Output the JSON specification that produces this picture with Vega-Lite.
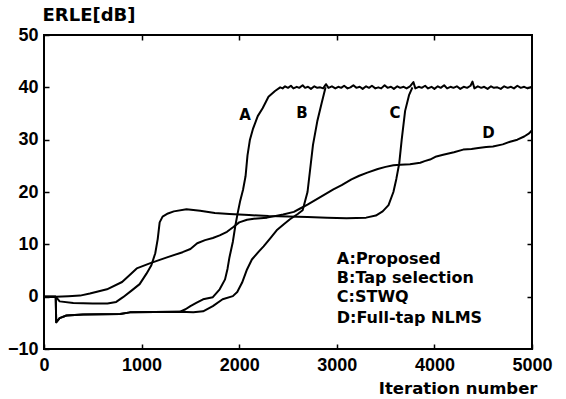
{
  "$schema": "https://vega.github.io/schema/vega-lite/v6.json",
  "width": 488,
  "height": 314,
  "autosize": "none",
  "padding": {"left": 44, "top": 35, "right": 34, "bottom": 50},
  "background": "white",
  "config": {
    "view": {"stroke": "black", "strokeWidth": 2},
    "axis": {"grid": false, "domain": false, "tickColor": "black", "tickWidth": 1.5, "labelColor": "black", "titleColor": "black"}
  },
  "datasets": {
    "curves": [
      {"curve":"A","iteration":0,"erle":0},{"curve":"A","iteration":120,"erle":0},{"curve":"A","iteration":125,"erle":-4.9},{"curve":"A","iteration":160,"erle":-4.1},{"curve":"A","iteration":230,"erle":-3.6},{"curve":"A","iteration":400,"erle":-3.4},{"curve":"A","iteration":780,"erle":-3.3},{"curve":"A","iteration":880,"erle":-3.0},{"curve":"A","iteration":1390,"erle":-2.9},{"curve":"A","iteration":1450,"erle":-2.4},{"curve":"A","iteration":1500,"erle":-1.8},{"curve":"A","iteration":1560,"erle":-1.2},{"curve":"A","iteration":1630,"erle":-0.5},{"curve":"A","iteration":1730,"erle":-0.1},{"curve":"A","iteration":1800,"erle":1.4},{"curve":"A","iteration":1855,"erle":3.3},{"curve":"A","iteration":1880,"erle":5.3},{"curve":"A","iteration":1900,"erle":7.5},{"curve":"A","iteration":1935,"erle":10.5},{"curve":"A","iteration":1960,"erle":13.5},{"curve":"A","iteration":1985,"erle":16.0},{"curve":"A","iteration":2010,"erle":18.3},{"curve":"A","iteration":2040,"erle":20.5},{"curve":"A","iteration":2065,"erle":23},{"curve":"A","iteration":2085,"erle":27},{"curve":"A","iteration":2110,"erle":30},{"curve":"A","iteration":2140,"erle":32},{"curve":"A","iteration":2190,"erle":34.5},{"curve":"A","iteration":2240,"erle":36},{"curve":"A","iteration":2300,"erle":38.2},{"curve":"A","iteration":2367,"erle":39.3},
      {"curve":"A","iteration":2420,"erle":40.0},{"curve":"A","iteration":2445,"erle":39.8},{"curve":"A","iteration":2470,"erle":40.2},{"curve":"A","iteration":2500,"erle":39.9},{"curve":"A","iteration":2530,"erle":40.3},{"curve":"A","iteration":2555,"erle":39.8},{"curve":"A","iteration":2590,"erle":40.1},{"curve":"A","iteration":2615,"erle":39.9},{"curve":"A","iteration":2650,"erle":40.4},{"curve":"A","iteration":2675,"erle":39.9},{"curve":"A","iteration":2705,"erle":40.1},{"curve":"A","iteration":2735,"erle":39.7},{"curve":"A","iteration":2770,"erle":40.2},{"curve":"A","iteration":2800,"erle":39.9},{"curve":"A","iteration":2830,"erle":40.0},{"curve":"A","iteration":2860,"erle":39.8},{"curve":"A","iteration":2890,"erle":40.6},{"curve":"A","iteration":2915,"erle":39.9},{"curve":"A","iteration":2950,"erle":40.2},{"curve":"A","iteration":2985,"erle":39.8},{"curve":"A","iteration":3015,"erle":40.1},{"curve":"A","iteration":3045,"erle":39.9},{"curve":"A","iteration":3075,"erle":40.3},{"curve":"A","iteration":3110,"erle":39.8},{"curve":"A","iteration":3140,"erle":40.0},{"curve":"A","iteration":3170,"erle":40.4},{"curve":"A","iteration":3200,"erle":39.9},{"curve":"A","iteration":3235,"erle":40.1},{"curve":"A","iteration":3265,"erle":39.7},{"curve":"A","iteration":3300,"erle":40.2},{"curve":"A","iteration":3330,"erle":39.9},{"curve":"A","iteration":3360,"erle":40.3},{"curve":"A","iteration":3395,"erle":39.8},{"curve":"A","iteration":3425,"erle":40.0},{"curve":"A","iteration":3455,"erle":39.8},{"curve":"A","iteration":3490,"erle":40.4},{"curve":"A","iteration":3520,"erle":39.9},{"curve":"A","iteration":3555,"erle":40.1},{"curve":"A","iteration":3585,"erle":39.7},{"curve":"A","iteration":3620,"erle":40.2},{"curve":"A","iteration":3650,"erle":39.9},{"curve":"A","iteration":3685,"erle":40.1},{"curve":"A","iteration":3715,"erle":39.8},{"curve":"A","iteration":3750,"erle":40.2},{"curve":"A","iteration":3785,"erle":41.0},{"curve":"A","iteration":3805,"erle":39.8},{"curve":"A","iteration":3840,"erle":40.1},{"curve":"A","iteration":3870,"erle":39.9},{"curve":"A","iteration":3905,"erle":40.3},{"curve":"A","iteration":3935,"erle":39.8},{"curve":"A","iteration":3970,"erle":40.1},{"curve":"A","iteration":4000,"erle":39.7},{"curve":"A","iteration":4035,"erle":40.2},{"curve":"A","iteration":4065,"erle":39.9},{"curve":"A","iteration":4100,"erle":40.4},{"curve":"A","iteration":4130,"erle":39.8},{"curve":"A","iteration":4165,"erle":40.1},{"curve":"A","iteration":4195,"erle":39.9},{"curve":"A","iteration":4230,"erle":40.2},{"curve":"A","iteration":4265,"erle":39.7},{"curve":"A","iteration":4300,"erle":40.1},{"curve":"A","iteration":4335,"erle":39.9},{"curve":"A","iteration":4370,"erle":40.3},{"curve":"A","iteration":4390,"erle":41.1},{"curve":"A","iteration":4410,"erle":39.8},{"curve":"A","iteration":4445,"erle":40.2},{"curve":"A","iteration":4480,"erle":39.9},{"curve":"A","iteration":4510,"erle":40.1},{"curve":"A","iteration":4545,"erle":39.7},{"curve":"A","iteration":4580,"erle":40.2},{"curve":"A","iteration":4610,"erle":39.9},{"curve":"A","iteration":4645,"erle":40.0},{"curve":"A","iteration":4680,"erle":39.7},{"curve":"A","iteration":4715,"erle":40.2},{"curve":"A","iteration":4750,"erle":39.9},{"curve":"A","iteration":4785,"erle":40.1},{"curve":"A","iteration":4815,"erle":39.8},{"curve":"A","iteration":4850,"erle":40.3},{"curve":"A","iteration":4885,"erle":39.9},{"curve":"A","iteration":4920,"erle":40.1},{"curve":"A","iteration":4955,"erle":39.8},{"curve":"A","iteration":5000,"erle":40.1},
      {"curve":"B","iteration":0,"erle":0},{"curve":"B","iteration":120,"erle":0},{"curve":"B","iteration":125,"erle":-4.9},{"curve":"B","iteration":160,"erle":-4.1},{"curve":"B","iteration":230,"erle":-3.6},{"curve":"B","iteration":400,"erle":-3.4},{"curve":"B","iteration":780,"erle":-3.3},{"curve":"B","iteration":880,"erle":-3.0},{"curve":"B","iteration":1390,"erle":-2.9},{"curve":"B","iteration":1530,"erle":-3.0},{"curve":"B","iteration":1630,"erle":-2.8},{"curve":"B","iteration":1730,"erle":-1.8},{"curve":"B","iteration":1830,"erle":-0.5},{"curve":"B","iteration":1935,"erle":0.1},{"curve":"B","iteration":1980,"erle":0.9},{"curve":"B","iteration":2030,"erle":2.7},{"curve":"B","iteration":2080,"erle":5.2},{"curve":"B","iteration":2130,"erle":7.1},{"curve":"B","iteration":2200,"erle":8.6},{"curve":"B","iteration":2250,"erle":9.6},{"curve":"B","iteration":2320,"erle":11.2},{"curve":"B","iteration":2390,"erle":12.8},{"curve":"B","iteration":2460,"erle":13.9},{"curve":"B","iteration":2520,"erle":14.8},{"curve":"B","iteration":2600,"erle":15.8},{"curve":"B","iteration":2650,"erle":16.5},{"curve":"B","iteration":2700,"erle":20},{"curve":"B","iteration":2756,"erle":29},{"curve":"B","iteration":2800,"erle":33.5},{"curve":"B","iteration":2845,"erle":37},{"curve":"B","iteration":2885,"erle":40},
      {"curve":"C","iteration":0,"erle":0},{"curve":"C","iteration":120,"erle":0},{"curve":"C","iteration":160,"erle":-0.9},{"curve":"C","iteration":300,"erle":-1.2},{"curve":"C","iteration":500,"erle":-1.3},{"curve":"C","iteration":650,"erle":-1.3},{"curve":"C","iteration":740,"erle":-1.0},{"curve":"C","iteration":810,"erle":-0.1},{"curve":"C","iteration":900,"erle":1.2},{"curve":"C","iteration":980,"erle":2.4},{"curve":"C","iteration":1050,"erle":4.4},{"curve":"C","iteration":1100,"erle":6.0},{"curve":"C","iteration":1140,"erle":8.3},{"curve":"C","iteration":1165,"erle":11},{"curve":"C","iteration":1185,"erle":14.2},{"curve":"C","iteration":1215,"erle":15.3},{"curve":"C","iteration":1270,"erle":15.9},{"curve":"C","iteration":1330,"erle":16.3},{"curve":"C","iteration":1460,"erle":16.7},{"curve":"C","iteration":1600,"erle":16.4},{"curve":"C","iteration":1750,"erle":16.0},{"curve":"C","iteration":1900,"erle":15.8},{"curve":"C","iteration":2100,"erle":15.6},{"curve":"C","iteration":2300,"erle":15.4},{"curve":"C","iteration":2500,"erle":15.3},{"curve":"C","iteration":2700,"erle":15.2},{"curve":"C","iteration":2900,"erle":15.1},{"curve":"C","iteration":3100,"erle":15.0},{"curve":"C","iteration":3300,"erle":15.1},{"curve":"C","iteration":3400,"erle":15.5},{"curve":"C","iteration":3470,"erle":16.3},{"curve":"C","iteration":3530,"erle":17.5},{"curve":"C","iteration":3580,"erle":20},{"curve":"C","iteration":3610,"erle":22.5},{"curve":"C","iteration":3640,"erle":25.5},{"curve":"C","iteration":3665,"erle":30},{"curve":"C","iteration":3700,"erle":35.5},{"curve":"C","iteration":3740,"erle":38.5},{"curve":"C","iteration":3775,"erle":40},
      {"curve":"D","iteration":0,"erle":0},{"curve":"D","iteration":120,"erle":0},{"curve":"D","iteration":250,"erle":0.1},{"curve":"D","iteration":370,"erle":0.2},{"curve":"D","iteration":470,"erle":0.6},{"curve":"D","iteration":645,"erle":1.4},{"curve":"D","iteration":800,"erle":2.8},{"curve":"D","iteration":870,"erle":4.0},{"curve":"D","iteration":950,"erle":5.4},{"curve":"D","iteration":1090,"erle":6.4},{"curve":"D","iteration":1260,"erle":7.5},{"curve":"D","iteration":1420,"erle":8.5},{"curve":"D","iteration":1500,"erle":9.1},{"curve":"D","iteration":1570,"erle":10.2},{"curve":"D","iteration":1650,"erle":10.8},{"curve":"D","iteration":1730,"erle":11.2},{"curve":"D","iteration":1800,"erle":11.7},{"curve":"D","iteration":1875,"erle":12.4},{"curve":"D","iteration":1940,"erle":13.3},{"curve":"D","iteration":2000,"erle":14.2},{"curve":"D","iteration":2080,"erle":14.7},{"curve":"D","iteration":2150,"erle":14.9},{"curve":"D","iteration":2285,"erle":15.1},{"curve":"D","iteration":2450,"erle":15.7},{"curve":"D","iteration":2560,"erle":16.2},{"curve":"D","iteration":2620,"erle":16.8},{"curve":"D","iteration":2700,"erle":17.6},{"curve":"D","iteration":2800,"erle":18.7},{"curve":"D","iteration":2900,"erle":19.8},{"curve":"D","iteration":2965,"erle":20.5},{"curve":"D","iteration":3050,"erle":21.3},{"curve":"D","iteration":3150,"erle":22.4},{"curve":"D","iteration":3230,"erle":23.1},{"curve":"D","iteration":3313,"erle":23.7},{"curve":"D","iteration":3420,"erle":24.4},{"curve":"D","iteration":3500,"erle":24.8},{"curve":"D","iteration":3580,"erle":25.1},{"curve":"D","iteration":3650,"erle":25.2},{"curve":"D","iteration":3750,"erle":25.3},{"curve":"D","iteration":3855,"erle":25.6},{"curve":"D","iteration":3900,"erle":25.9},{"curve":"D","iteration":3955,"erle":26.2},{"curve":"D","iteration":4020,"erle":26.8},{"curve":"D","iteration":4090,"erle":27.1},{"curve":"D","iteration":4200,"erle":27.6},{"curve":"D","iteration":4295,"erle":28.1},{"curve":"D","iteration":4380,"erle":28.2},{"curve":"D","iteration":4450,"erle":28.4},{"curve":"D","iteration":4530,"erle":28.6},{"curve":"D","iteration":4600,"erle":28.7},{"curve":"D","iteration":4700,"erle":29.1},{"curve":"D","iteration":4775,"erle":29.6},{"curve":"D","iteration":4850,"erle":30.0},{"curve":"D","iteration":4920,"erle":30.6},{"curve":"D","iteration":4970,"erle":31.2},{"curve":"D","iteration":5000,"erle":31.8}
    ],
    "labels": [
      {"label":"A","iteration":2059,"erle":34.8},
      {"label":"B","iteration":2643,"erle":35.1},
      {"label":"C","iteration":3596,"erle":35.1},
      {"label":"D","iteration":4555,"erle":31.3}
    ],
    "legend": [
      {"text":"A:Proposed","iteration":3000,"erle":7.2},
      {"text":"B:Tap selection","iteration":3000,"erle":3.6},
      {"text":"C:STWQ","iteration":3000,"erle":0.0},
      {"text":"D:Full-tap NLMS","iteration":3000,"erle":-4.1}
    ]
  },
  "resolve": {"axis": {"x": "independent", "y": "independent"}},
  "layer": [
    {
      "data": {"name": "curves"},
      "mark": {"type": "line", "color": "black", "strokeWidth": 2, "strokeJoin": "round"},
      "encoding": {
        "x": {"field": "iteration", "type": "quantitative",
          "scale": {"domain": [0, 5000], "nice": false, "zero": false},
          "axis": {"orient": "bottom", "values": [0,1000,2000,3000,4000,5000], "format": "d", "tickSize": -5,
            "labelFont": "Liberation Sans", "labelFontWeight": "bold", "labelFontSize": 18, "labelPadding": 12, "labelFlush": false,
            "title": "Iteration number", "titleFont": "DejaVu Sans", "titleFontWeight": "bold", "titleFontSize": 16.5,
            "titleAnchor": "end", "titleAlign": "right", "titleBaseline": "middle", "titleX": 493, "titleY": 39}},
        "y": {"field": "erle", "type": "quantitative",
          "scale": {"domain": [-10, 50], "nice": false, "zero": false},
          "axis": {"orient": "left", "values": [-10,0,10,20,30,40,50], "format": "d", "tickSize": -5,
            "labelFont": "Liberation Sans", "labelFontWeight": "bold", "labelFontSize": 18, "labelPadding": 11, "labelFlush": false,
            "title": "ERLE[dB]", "titleFont": "DejaVu Sans", "titleFontWeight": "bold", "titleFontSize": 18,
            "titleAngle": 0, "titleAlign": "left", "titleBaseline": "middle", "titleX": -2, "titleY": -20}},
        "detail": {"field": "curve", "type": "nominal"}
      }
    },
    {
      "data": {"name": "labels"},
      "mark": {"type": "text", "font": "DejaVu Sans", "fontWeight": "bold", "fontSize": 15, "color": "black", "align": "center", "baseline": "middle"},
      "encoding": {
        "x": {"field": "iteration", "type": "quantitative",
          "axis": {"orient": "top", "values": [1000,2000,3000,4000], "tickSize": -5, "labels": false, "title": null}},
        "y": {"field": "erle", "type": "quantitative",
          "axis": {"orient": "right", "values": [0,10,20,30,40], "tickSize": -5, "labels": false, "title": null}},
        "text": {"field": "label"}
      }
    },
    {
      "data": {"name": "legend"},
      "mark": {"type": "text", "font": "DejaVu Sans", "fontWeight": "bold", "fontSize": 16, "color": "black", "align": "left", "baseline": "middle"},
      "encoding": {
        "x": {"field": "iteration", "type": "quantitative", "axis": null},
        "y": {"field": "erle", "type": "quantitative", "axis": null},
        "text": {"field": "text"}
      }
    }
  ]
}
